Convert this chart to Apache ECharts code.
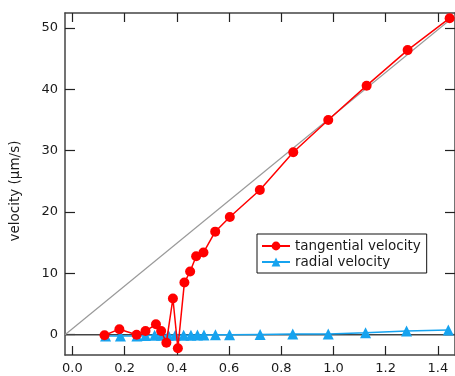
<!DOCTYPE html>
<html>
<head>
<meta charset="utf-8">
<script src="https://cdn.jsdelivr.net/npm/echarts@6/dist/echarts.min.js"></script>
<style>html,body{margin:0;padding:0;background:#fff}#c{width:455px;height:376px}</style>
</head>
<body>
<div id="c"></div>
<script>
const xTicks = [0, 0.2, 0.4, 0.6, 0.8, 1.0, 1.2, 1.4];
const yTicks = [0, 10, 20, 30, 40, 50];
const XMIN = -0.0283, XMAX = 1.4655;
const YMIN = -3.31, YMAX = 52.45;

const tangX = [0.123,0.18,0.246,0.28,0.32,0.34,0.36,0.385,0.404,0.429,0.451,0.474,0.502,0.547,0.603,0.718,0.846,0.98,1.127,1.284,1.445];
const tangY = [-0.1,0.9,0,0.6,1.7,0.6,-1.3,5.9,-2.2,8.5,10.3,12.8,13.4,16.8,19.2,23.6,29.75,35.0,40.6,46.4,51.6];
const radX = [0.127,0.184,0.247,0.28,0.315,0.341,0.368,0.394,0.426,0.454,0.479,0.504,0.548,0.602,0.719,0.844,0.98,1.123,1.28,1.44];
const radY = [-0.2,-0.2,-0.2,-0.15,-0.1,-0.1,-0.1,-0.1,-0.1,-0.1,-0.05,-0.05,0,0,0.05,0.1,0.1,0.3,0.6,0.75];
const refX = [-0.0283, 1.4655];
const refY = [0, 52.0];
const zeroX = [XMIN, XMAX];
const zeroY = [0, 0];

const zip = (a, b) => a.map((v, i) => [v, b[i]]);
const FONT = 'DejaVu Sans';
const AX = '#444';

const chart = echarts.init(document.getElementById('c'), null, {renderer: 'canvas'});
const baseX = {
  type: 'value', min: XMIN, max: XMAX,
  axisLine: {show: true, onZero: false, lineStyle: {color: AX, width: 1.5}},
  axisTick: {show: true, inside: true, length: 9, customValues: xTicks, lineStyle: {color: '#222', width: 1.2}},
  splitLine: {show: false}
};
const baseY = {
  type: 'value', min: YMIN, max: YMAX,
  axisLine: {show: true, onZero: false, lineStyle: {color: AX, width: 1.5}},
  axisTick: {show: true, inside: true, length: 10, customValues: yTicks, lineStyle: {color: '#222', width: 1.2}},
  splitLine: {show: false}
};
chart.setOption({
  animation: false,
  grid: {left: 62, top: 13, width: 396, height: 342, containLabel: false},
  xAxis: [
    Object.assign({}, baseX, {position: 'bottom',
      axisLabel: {customValues: xTicks, margin: 7, color: '#1a1a1a', fontFamily: FONT, fontSize: 13,
        formatter: v => v.toFixed(1)}}),
    Object.assign({}, baseX, {position: 'top', axisLabel: {show: false}})
  ],
  yAxis: [
    Object.assign({}, baseY, {position: 'left',
      name: 'velocity (µm/s)', nameLocation: 'middle', nameGap: 43, nameRotate: 90,
      nameTextStyle: {color: '#1a1a1a', fontFamily: FONT, fontSize: 13.5, padding: [0, 14, 0, 0]},
      axisLabel: {customValues: yTicks, margin: 7, color: '#1a1a1a', fontFamily: FONT, fontSize: 13}}),
    Object.assign({}, baseY, {position: 'right', axisLabel: {show: false}})
  ],
  legend: {
    data: ['tangential velocity', 'radial velocity'],
    orient: 'vertical', left: 257, top: 234,
    borderColor: '#111', borderWidth: 1, borderRadius: 0,
    padding: [5, 6, 4, 4], itemGap: 2, itemWidth: 28, itemHeight: 11,
    textStyle: {color: '#1a1a1a', fontFamily: FONT, fontSize: 13.5}
  },
  series: [
    {type: 'line', data: zip(zeroX, zeroY), symbol: 'none', silent: true,
      lineStyle: {color: '#444', width: 1.6}, z: 1},
    {type: 'line', data: zip(refX, refY), symbol: 'none', silent: true,
      lineStyle: {color: '#999', width: 1.2}, z: 2},
    {name: 'radial velocity', type: 'line', data: zip(radX, radY),
      symbol: 'triangle', symbolSize: 11,
      lineStyle: {color: '#16a3ef', width: 1.5}, itemStyle: {color: '#16a3ef'}, z: 3},
    {name: 'tangential velocity', type: 'line', data: zip(tangX, tangY),
      symbol: 'circle', symbolSize: 10,
      lineStyle: {color: '#ff0000', width: 1.5}, itemStyle: {color: '#ff0000'}, z: 4}
  ]
});
</script>
</body>
</html>
